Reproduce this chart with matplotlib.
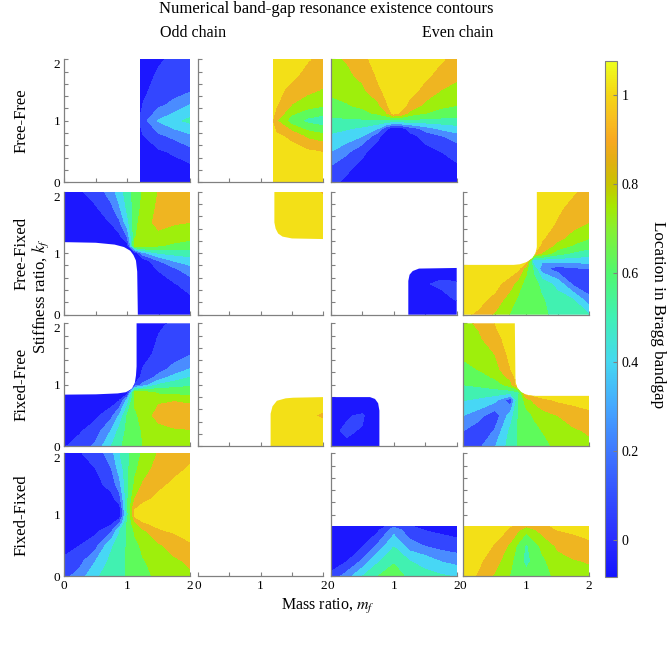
import numpy as np
import matplotlib
matplotlib.use("Agg")
import matplotlib.pyplot as plt
from matplotlib.colors import LinearSegmentedColormap, Normalize
from matplotlib.cm import ScalarMappable
from matplotlib.patches import Polygon

plt.rcParams["font.family"] = "serif"
plt.rcParams["font.serif"] = ["Liberation Serif", "DejaVu Serif"]
plt.rcParams["mathtext.fontset"] = "stix"

nan = np.nan

# grids of mass ratio m_f (columns) and stiffness ratio k_f (rows)
coarse_ratio = [0, 0.25, 0.5, 0.75, 1, 1.25, 1.5, 1.75, 2]
# extra rows/columns around the point where the contours meet
fine_ratio = [0, 0.25, 0.5, 0.75, 0.875, 1, 1.125, 1.25, 1.5, 1.75, 2]

# Location in Bragg bandgap
# every list: rows from k_f = 2 (top) down to k_f = 0 (bottom)

# ---- Free-Free (coarse, coarse, fine) ----
odd_ff_1 = [
    [nan, nan, nan, nan, -0.20, -0.01, 0.04, 0.09, 0.10],
    [nan, nan, nan, nan, -0.20, 0.00, 0.08, 0.11, 0.12],
    [nan, nan, nan, nan, -0.20, 0.03, 0.11, 0.15, 0.17],
    [nan, nan, nan, nan, -0.20, 0.065, 0.17, 0.22, 0.32],
    [nan, nan, nan, nan, -0.20, 0.14, 0.32, 0.41, 0.47],
    [nan, nan, nan, nan, -0.20, 0.05, 0.16, 0.22, 0.28],
    [nan, nan, nan, nan, -0.20, -0.01, 0.04, 0.08, 0.15],
    [nan, nan, nan, nan, -0.20, -0.02, 0.00, 0.01, 0.03],
    [nan, nan, nan, nan, -0.20, -0.03, 0.00, 0.00, 0.00],
]
odd_ff_2 = [
    [nan, nan, nan, nan, 1.10, 1.00, 1.00, 0.95, 0.90],
    [nan, nan, nan, nan, 1.10, 1.00, 0.97, 0.90, 0.86],
    [nan, nan, nan, nan, 1.10, 0.98, 0.90, 0.84, 0.80],
    [nan, nan, nan, nan, 1.10, 0.95, 0.80, 0.74, 0.70],
    [nan, nan, nan, nan, 1.30, 0.82, 0.62, 0.52, 0.48],
    [nan, nan, nan, nan, 1.10, 0.97, 0.90, 0.78, 0.73],
    [nan, nan, nan, nan, 1.10, 1.00, 1.00, 0.96, 0.935],
    [nan, nan, nan, nan, 1.10, 1.00, 1.00, 1.00, 0.98],
    [nan, nan, nan, nan, 1.10, 1.00, 1.00, 1.00, 1.00],
]
even_ff_1 = [
    [0.78, 0.82, 0.92, 0.97, 0.98, 1.00, 1.02, 1.01, 0.98, 0.95, 0.91],
    [0.76, 0.78, 0.85, 0.96, 0.975, 1.00, 1.02, 1.00, 0.96, 0.91, 0.84],
    [0.72, 0.74, 0.78, 0.92, 0.965, 1.00, 1.01, 0.98, 0.91, 0.81, 0.77],
    [0.65, 0.68, 0.72, 0.78, 0.924, 1.00, 0.978, 0.91, 0.77, 0.72, 0.69],
    [0.593, 0.612, 0.648, 0.717, 0.784, 1.00, 0.907, 0.767, 0.693, 0.641, 0.612],
    [0.534, 0.534, 0.534, 0.534, 0.534, 0.50, 0.514, 0.514, 0.514, 0.514, 0.514],
    [0.473, 0.453, 0.415, 0.31, 0.0925, -0.05, 0.011, 0.111, 0.245, 0.337, 0.388],
    [0.42, 0.38, 0.31, 0.09, -0.017, -0.05, -0.05, 0.01, 0.11, 0.18, 0.25],
    [0.31, 0.22, 0.09, -0.02, -0.05, -0.05, -0.05, -0.05, 0.01, 0.06, 0.11],
    [0.18, 0.09, 0.02, -0.05, -0.05, -0.05, -0.05, -0.05, -0.04, 0.01, 0.04],
    [0.09, 0.03, -0.02, -0.05, -0.05, -0.05, -0.05, -0.05, -0.05, -0.02, 0.01],
]

# ---- Free-Fixed (fine, coarse, coarse, fine) ----
odd_frfx_1 = [
    [0.01, 0.045, 0.12, 0.25, 0.375, 0.50, 0.605, 0.70, 0.815, 0.86, 0.88],
    [-0.04, 0.00, 0.05, 0.17, 0.296, 0.47, 0.611, 0.73, 0.83, 0.87, 0.87],
    [-0.05, -0.05, -0.01, 0.07, 0.166, 0.39, 0.628, 0.78, 0.83, 0.82, 0.81],
    [-0.05, -0.05, -0.05, -0.02, 0.011, 0.17, 0.68, 0.78, 0.79, 0.75, 0.72],
    [-0.05, -0.05, -0.05, -0.05, -0.05, -0.014, 0.78, 0.79, 0.706, 0.66, 0.626],
    [-0.05, -0.05, -0.05, -0.05, -0.05, -0.05, -0.04, 0.263, 0.44, 0.478, 0.495],
    [-0.05, -0.05, -0.05, -0.05, -0.05, -0.05, -0.05, -0.03, 0.184, 0.316, 0.379],
    [-0.05, -0.05, -0.05, -0.05, -0.05, -0.05, -0.05, -0.04, 0.08, 0.175, 0.26],
    [-0.05, -0.05, -0.05, -0.05, -0.05, -0.05, -0.05, -0.05, -0.035, 0.05, 0.12],
    [-0.05, -0.05, -0.05, -0.05, -0.05, -0.05, -0.05, -0.05, -0.045, -0.03, 0.03],
    [-0.05, -0.05, -0.05, -0.05, -0.05, -0.05, -0.05, -0.05, -0.05, -0.05, -0.02],
]
odd_frfx_2 = [
    [nan, nan, nan, nan, 1.00, 1.00, 1.00, 1.00, 0.92],
    [nan, nan, nan, nan, 1.00, 1.00, 1.00, 0.96, 1.00],
    [nan, nan, nan, nan, 1.00, 1.00, 1.00, 1.00, 1.00],
    [nan, nan, nan, nan, 1.00, 1.00, 1.00, 1.00, 1.00],
    [nan, nan, nan, nan, 1.00, 1.00, 1.00, 1.00, 1.00],
    [nan, nan, nan, nan, nan, nan, nan, nan, nan],
    [nan, nan, nan, nan, nan, nan, nan, nan, nan],
    [nan, nan, nan, nan, nan, nan, nan, nan, nan],
    [nan, nan, nan, nan, nan, nan, nan, nan, nan],
]
even_frfx_1 = [
    [nan, nan, nan, nan, nan, nan, nan, nan, nan],
    [nan, nan, nan, nan, nan, nan, nan, nan, nan],
    [nan, nan, nan, nan, nan, nan, nan, nan, nan],
    [nan, nan, nan, nan, nan, nan, nan, nan, nan],
    [nan, nan, nan, nan, -0.05, -0.05, -0.05, -0.05, -0.05],
    [nan, nan, nan, nan, -0.05, -0.05, 0.00, 0.00, -0.05],
    [nan, nan, nan, nan, -0.05, -0.05, 0.05, 0.08, 0.08],
    [nan, nan, nan, nan, -0.05, -0.05, -0.05, 0.02, 0.07],
    [nan, nan, nan, nan, -0.05, -0.05, -0.05, -0.05, -0.05],
]
even_frfx_2 = [
    [1.02, 1.02, 1.02, 1.02, 1.02, 1.02, 1.02, 1.02, 0.98, 0.95, 0.90],
    [1.02, 1.02, 1.02, 1.02, 1.02, 1.02, 1.02, 1.01, 0.96, 0.91, 0.86],
    [1.02, 1.02, 1.02, 1.02, 1.02, 1.02, 1.02, 1.00, 0.93, 0.86, 0.81],
    [1.02, 1.02, 1.02, 1.02, 1.02, 1.02, 1.02, 0.96, 0.85, 0.76, 0.70],
    [1.02, 1.02, 1.02, 1.02, 1.02, 1.02, 1.02, 0.915, 0.768, 0.678, 0.606],
    [1.02, 1.02, 1.02, 1.02, 1.02, 1.02, 0.96, 0.80, 0.62, 0.54, 0.50],
    [1.02, 1.02, 1.02, 1.02, 1.02, 1.02, 0.271, 0.339, 0.356, 0.358, 0.36],
    [1.02, 1.02, 1.02, 1.01, 0.974, 0.72, 0.531, 0.23, 0.125, 0.17, 0.19],
    [1.02, 1.00, 0.98, 0.87, 0.73, 0.65, 0.592, 0.53, 0.39, 0.16, 0.11],
    [0.99, 0.97, 0.91, 0.73, 0.673, 0.64, 0.604, 0.57, 0.50, 0.44, 0.22],
    [0.96, 0.92, 0.79, 0.68, 0.659, 0.63, 0.609, 0.58, 0.53, 0.48, 0.44],
]

# ---- Fixed-Free (fine, coarse, coarse, fine) ----
odd_fxfr_1 = [
    [-0.05, -0.05, -0.05, -0.05, -0.05, -0.05, -0.045, -0.04, 0.035, 0.085, 0.115],
    [-0.05, -0.05, -0.05, -0.05, -0.05, -0.05, -0.043, -0.03, 0.07, 0.11, 0.14],
    [-0.05, -0.05, -0.05, -0.05, -0.05, -0.05, -0.04, 0.00, 0.10, 0.15, 0.18],
    [-0.05, -0.05, -0.05, -0.05, -0.05, -0.05, -0.05, 0.07, 0.155, 0.22, 0.32],
    [-0.05, -0.05, -0.05, -0.05, -0.05, -0.05, -0.05, 0.114, 0.221, 0.361, 0.435],
    [-0.05, -0.05, -0.05, -0.05, -0.05, -0.05, 0.084, 0.22, 0.45, 0.51, 0.54],
    [-0.05, -0.05, -0.05, -0.05, -0.05, -0.04, 0.76, 0.75, 0.666, 0.643, 0.635],
    [-0.05, -0.05, -0.05, -0.02, 0.048, 0.36, 0.715, 0.77, 0.79, 0.80, 0.78],
    [-0.045, -0.02, 0.03, 0.16, 0.327, 0.565, 0.669, 0.73, 0.86, 0.90, 0.90],
    [0.01, 0.045, 0.13, 0.32, 0.48, 0.59, 0.652, 0.70, 0.76, 0.79, 0.80],
    [0.05, 0.12, 0.22, 0.44, 0.54, 0.60, 0.644, 0.69, 0.735, 0.775, 0.78],
]
odd_fxfr_2 = [
    [nan, nan, nan, nan, nan, nan, nan, nan, nan],
    [nan, nan, nan, nan, nan, nan, nan, nan, nan],
    [nan, nan, nan, nan, nan, nan, nan, nan, nan],
    [nan, nan, nan, nan, nan, nan, nan, nan, nan],
    [nan, nan, nan, nan, 1.00, 1.00, 1.00, 1.00, 1.00],
    [nan, nan, nan, nan, 1.00, 1.00, 1.00, 1.00, 1.00],
    [nan, nan, nan, nan, 1.00, 1.00, 1.00, 0.96, 0.92],
    [nan, nan, nan, nan, 1.00, 1.00, 1.00, 1.00, 1.00],
    [nan, nan, nan, nan, 1.00, 1.00, 1.00, 1.00, 1.00],
]
even_fxfr_1 = [
    [nan, nan, nan, nan, nan, nan, nan, nan, nan],
    [nan, nan, nan, nan, nan, nan, nan, nan, nan],
    [nan, nan, nan, nan, nan, nan, nan, nan, nan],
    [nan, nan, nan, nan, nan, nan, nan, nan, nan],
    [-0.05, -0.05, -0.05, -0.05, -0.05, nan, nan, nan, nan],
    [-0.05, -0.05, -0.05, 0.03, -0.05, nan, nan, nan, nan],
    [-0.05, 0.05, 0.075, -0.05, -0.05, nan, nan, nan, nan],
    [0.04, 0.075, 0.05, -0.05, -0.05, nan, nan, nan, nan],
    [0.05, 0.04, -0.05, -0.05, -0.05, nan, nan, nan, nan],
]
even_fxfr_2 = [
    [0.78, 0.83, 0.94, 1.01, 1.02, 1.02, 1.02, 1.02, 1.02, 1.02, 1.02],
    [0.75, 0.79, 0.89, 1.00, 1.02, 1.02, 1.02, 1.02, 1.02, 1.02, 1.02],
    [0.715, 0.75, 0.81, 0.98, 1.02, 1.02, 1.02, 1.02, 1.02, 1.02, 1.02],
    [0.65, 0.695, 0.75, 0.935, 1.02, 1.02, 1.02, 1.02, 1.02, 1.02, 1.02],
    [0.608, 0.642, 0.705, 0.847, 1.02, 1.02, 1.02, 1.02, 1.02, 1.02, 1.02],
    [0.56, 0.58, 0.62, 0.75, 1.02, 1.02, 1.02, 1.02, 1.02, 1.02, 1.02],
    [0.502, 0.50, 0.499, 0.483, 0.50, 1.02, 1.02, 1.02, 1.02, 1.02, 1.02],
    [0.445, 0.415, 0.35, 0.10, 0.558, 0.745, 0.836, 0.905, 0.955, 0.975, 0.985],
    [0.31, 0.235, 0.105, 0.37, 0.565, 0.64, 0.703, 0.75, 0.81, 0.87, 0.91],
    [0.19, 0.105, 0.20, 0.47, 0.567, 0.61, 0.656, 0.69, 0.75, 0.79, 0.825],
    [0.105, 0.165, 0.30, 0.50, 0.567, 0.60, 0.632, 0.66, 0.71, 0.75, 0.78],
]

# ---- Fixed-Fixed (fine, -, coarse, coarse) ----
odd_fxfx_1 = [
    [0.01, 0.05, 0.12, 0.26, 0.431, 0.53, 0.629, 0.71, 0.82, 0.87, 0.91],
    [-0.02, 0.01, 0.06, 0.19, 0.362, 0.53, 0.664, 0.75, 0.86, 0.91, 0.95],
    [-0.05, -0.04, 0.01, 0.12, 0.264, 0.53, 0.714, 0.82, 0.91, 0.96, 0.97],
    [-0.05, -0.05, -0.05, 0.01, 0.12, 0.53, 0.82, 0.91, 0.97, 0.99, 1.00],
    [-0.05, -0.05, -0.05, -0.05, 0.013, 0.53, 0.914, 0.972, 1.003, 1.014, 1.02],
    [-0.05, -0.05, -0.05, -0.05, -0.05, 0.50, 1.003, 1.00, 1.00, 1.00, 1.00],
    [-0.05, -0.05, -0.05, 0.016, 0.151, 0.57, 0.787, 0.934, 0.969, 0.98, 0.986],
    [-0.05, -0.03, 0.02, 0.15, 0.424, 0.57, 0.715, 0.79, 0.93, 0.96, 0.97],
    [0.02, 0.06, 0.15, 0.42, 0.498, 0.57, 0.653, 0.72, 0.79, 0.86, 0.93],
    [0.08, 0.15, 0.31, 0.48, 0.521, 0.57, 0.626, 0.68, 0.74, 0.79, 0.83],
    [0.15, 0.25, 0.42, 0.50, 0.533, 0.57, 0.612, 0.65, 0.72, 0.76, 0.79],
]
even_fxfx_1 = [
    [nan, nan, nan, nan, nan, nan, nan, nan, nan],
    [nan, nan, nan, nan, nan, nan, nan, nan, nan],
    [nan, nan, nan, nan, nan, nan, nan, nan, nan],
    [nan, nan, nan, nan, nan, nan, nan, nan, nan],
    [-0.05, -0.05, -0.05, -0.05, -0.10, -0.07, -0.05, -0.05, -0.05],
    [-0.05, -0.05, -0.05, 0.04, 0.26, 0.12, 0.055, 0.03, 0.00],
    [-0.05, -0.04, 0.04, 0.22, 0.43, 0.24, 0.18, 0.14, 0.12],
    [-0.03, 0.05, 0.21, 0.42, 0.54, 0.44, 0.38, 0.30, 0.26],
    [0.10, 0.25, 0.44, 0.56, 0.64, 0.52, 0.49, 0.46, 0.43],
]
even_fxfx_2 = [
    [nan, nan, nan, nan, nan, nan, nan, nan, nan],
    [nan, nan, nan, nan, nan, nan, nan, nan, nan],
    [nan, nan, nan, nan, nan, nan, nan, nan, nan],
    [nan, nan, nan, nan, nan, nan, nan, nan, nan],
    [1.00, 1.00, 1.00, 1.00, 1.10, 1.00, 1.00, 1.00, 1.00],
    [1.00, 1.00, 1.00, 0.92, 0.72, 0.85, 0.94, 0.96, 0.97],
    [1.00, 1.00, 0.93, 0.78, 0.54, 0.72, 0.83, 0.88, 0.92],
    [1.00, 0.96, 0.86, 0.72, 0.52, 0.66, 0.77, 0.80, 0.82],
    [1.00, 0.92, 0.79, 0.68, 0.60, 0.64, 0.72, 0.75, 0.77],
]

# outline of the region where a resonance exists (m_f, k_f)
full_m = [0, 2, 2, 0]
full_k = [0, 0, 2, 2]
odd_ff_edge_m = [1.2, 2, 2, 1.2]
odd_ff_edge_k = [0, 0, 2, 2]
odd_frfx_1_edge_m = [0, 0, 2, 2, 1.17, 1.16, 1.14, 1.10, 1.05, 0.95, 0.80, 0.50, 0]
odd_frfx_1_edge_k = [1.18, 2, 2, 0, 0, 0.70, 0.88, 0.97, 1.04, 1.10, 1.14, 1.17, 1.18]
odd_frfx_2_edge_m = [1.22, 2, 2, 1.5, 1.35, 1.28, 1.24, 1.22]
odd_frfx_2_edge_k = [2, 2, 1.23, 1.24, 1.27, 1.32, 1.40, 1.5]
even_frfx_1_edge_m = [1.23, 2, 2, 1.40, 1.30, 1.25, 1.23]
even_frfx_1_edge_k = [0, 0, 0.76, 0.75, 0.71, 0.65, 0.55]
even_frfx_2_edge_m = [0, 2, 2, 1.17, 1.17, 1.15, 1.10, 1.02, 0.90, 0.80, 0]
even_frfx_2_edge_k = [0, 0, 2, 2, 1.10, 1.00, 0.92, 0.86, 0.82, 0.81, 0.81]
odd_fxfr_1_edge_m = [0, 2, 2, 1.15, 1.15, 1.14, 1.12, 1.07, 0.98, 0.85, 0.50, 0]
odd_fxfr_1_edge_k = [0, 0, 2, 2, 1.30, 1.15, 1.02, 0.93, 0.88, 0.86, 0.845, 0.84]
odd_fxfr_2_edge_m = [1.16, 2, 2, 1.52, 1.40, 1.26, 1.19, 1.16]
odd_fxfr_2_edge_k = [0, 0, 0.80, 0.79, 0.78, 0.74, 0.65, 0.53]
even_fxfr_1_edge_m = [0, 0.77, 0.77, 0.75, 0.70, 0.62, 0]
even_fxfr_1_edge_k = [0, 0, 0.58, 0.70, 0.77, 0.80, 0.80]
even_fxfr_2_edge_m = [0, 2, 2, 1.11, 1.00, 0.92, 0.86, 0.83, 0.82, 0]
even_fxfr_2_edge_k = [0, 0, 0.82, 0.82, 0.84, 0.88, 0.95, 1.04, 2, 2]
even_fxfx_edge_m = [0, 2, 2, 0]
even_fxfx_edge_k = [0, 0, 0.81, 0.81]

row_names = ["Free-Free", "Free-Fixed", "Fixed-Free", "Fixed-Fixed"]

# (values, grid, outline m, outline k); None = no axes, "empty" = blank axes
panels = [
    [(odd_ff_1, coarse_ratio, odd_ff_edge_m, odd_ff_edge_k),
     (odd_ff_2, coarse_ratio, odd_ff_edge_m, odd_ff_edge_k),
     (even_ff_1, fine_ratio, full_m, full_k),
     None],
    [(odd_frfx_1, fine_ratio, odd_frfx_1_edge_m, odd_frfx_1_edge_k),
     (odd_frfx_2, coarse_ratio, odd_frfx_2_edge_m, odd_frfx_2_edge_k),
     (even_frfx_1, coarse_ratio, even_frfx_1_edge_m, even_frfx_1_edge_k),
     (even_frfx_2, fine_ratio, even_frfx_2_edge_m, even_frfx_2_edge_k)],
    [(odd_fxfr_1, fine_ratio, odd_fxfr_1_edge_m, odd_fxfr_1_edge_k),
     (odd_fxfr_2, coarse_ratio, odd_fxfr_2_edge_m, odd_fxfr_2_edge_k),
     (even_fxfr_1, coarse_ratio, even_fxfr_1_edge_m, even_fxfr_1_edge_k),
     (even_fxfr_2, fine_ratio, even_fxfr_2_edge_m, even_fxfr_2_edge_k)],
    [(odd_fxfx_1, fine_ratio, full_m, full_k),
     "empty",
     (even_fxfx_1, coarse_ratio, even_fxfx_edge_m, even_fxfx_edge_k),
     (even_fxfx_2, coarse_ratio, even_fxfx_edge_m, even_fxfx_edge_k)],
]

band_levels = [-1, 0.06, 0.19, 0.31, 0.44, 0.56, 0.69, 0.81, 0.94, 2]
band_colors = ["#1c17ff", "#3346ff", "#4a8cff", "#47d7f5", "#41f1b1",
               "#5efb5b", "#9eef0c", "#efb521", "#f3e017"]

cbar_min, cbar_max = -0.083, 1.076
cbar_nodes = [(-0.083, "#1414ff"), (0.0, "#2a2dff"), (0.1, "#3350ff"),
              (0.2, "#3f78ff"), (0.3, "#45a8ff"), (0.4, "#45d8f0"),
              (0.5, "#40f0b5"), (0.6, "#50f870"), (0.7, "#88f030"),
              (0.75, "#a6e800"), (0.8, "#c8c400"), (0.85, "#e0b010"),
              (0.9, "#f8a820"), (0.95, "#f8c020"), (1.0, "#f5d515"),
              (1.076, "#eeff1e")]

W, H = 668, 652
col_left = [64.3, 197.7, 331, 463.3]
row_top = [59.3, 191.7, 323.3, 453.3]
ax_w, ax_h = 125.7, 123
spine_gray = "#808080"


def px_box(left, top, w, h):
    return [left / W, 1 - (top + h) / H, w / W, h / H]


fig = plt.figure(figsize=(W / 100, H / 100), dpi=100)

for r in range(4):
    for c in range(4):
        panel = panels[r][c]
        if panel is None:
            continue
        ax = fig.add_axes(px_box(col_left[c], row_top[r], ax_w, ax_h))
        ax.set_xlim(0, 2)
        ax.set_ylim(0, 2)
        ax.set_axisbelow(True)
        for side in ["top", "right"]:
            ax.spines[side].set_visible(False)
        for side in ["left", "bottom"]:
            ax.spines[side].set_color(spine_gray)
            ax.spines[side].set_linewidth(0.9)

        if panel != "empty":
            values, grid, edge_m, edge_k = panel
            z = np.flipud(np.array(values, dtype=float))
            cs = ax.contourf(grid, grid, z, levels=band_levels, colors=band_colors)
            outline = Polygon(np.column_stack([edge_m, edge_k]), closed=True,
                              transform=ax.transData)
            cs.set_clip_path(outline)

        ax.set_xticks(np.arange(0, 2.01, 0.5))
        if r == 3:
            ax.set_xticklabels(["0", "", "1", "", "2"])
        else:
            ax.tick_params(labelbottom=False)
        if panel == "empty":
            ax.spines["left"].set_visible(False)
            ax.set_yticks([])
        else:
            ax.set_yticks(np.arange(0, 2.01, 0.2))
            if c == 0:
                labels = ax.set_yticklabels(["0", "", "", "", "", "1",
                                             "", "", "", "", "2"])
                # top label sits just below the top of the axis
                labels[-1].set_verticalalignment("top")
            else:
                ax.tick_params(labelleft=False)
        ax.tick_params(direction="in", length=3, width=0.8,
                       color=spine_gray, labelsize=9.5, pad=3)

# colorbar
cbar_cmap = LinearSegmentedColormap.from_list(
    "bragg", [((v - cbar_min) / (cbar_max - cbar_min), col) for v, col in cbar_nodes])
cax = fig.add_axes(px_box(605, 61, 12, 516))
cb = fig.colorbar(ScalarMappable(norm=Normalize(cbar_min, cbar_max), cmap=cbar_cmap),
                  cax=cax, ticks=[0, 0.2, 0.4, 0.6, 0.8, 1])
cb.ax.set_yticklabels(["0", "0.2", "0.4", "0.6", "0.8", "1"])
cb.outline.set_edgecolor(spine_gray)
cb.ax.tick_params(direction="in", length=3, color=spine_gray, labelsize=10)

# texts
fig.text(326 / W, 1 - 9 / H, "Numerical band-gap resonance existence contours",
         ha="center", va="center", fontsize=12)
fig.text(193 / W, 1 - 33 / H, "Odd chain", ha="center", va="center", fontsize=11.5)
fig.text(458 / W, 1 - 33 / H, "Even chain", ha="center", va="center", fontsize=11.5)
for r, name in enumerate(row_names):
    fig.text(22 / W, 1 - (row_top[r] + ax_h / 2) / H, name, rotation=90,
             ha="center", va="center", fontsize=12)
fig.text(41 / W, 1 - 296 / H, r"Stiffness ratio, $k_f$", rotation=90,
         ha="center", va="center", fontsize=12)
fig.text(328 / W, 1 - 607 / H, r"Mass ratio, $m_f$", ha="center", va="center",
         fontsize=11.5)
fig.text(658 / W, 1 - 315 / H, "Location in Bragg bandgap", rotation=270,
         ha="center", va="center", fontsize=12.3)

fig.savefig("out.png", dpi=100)
